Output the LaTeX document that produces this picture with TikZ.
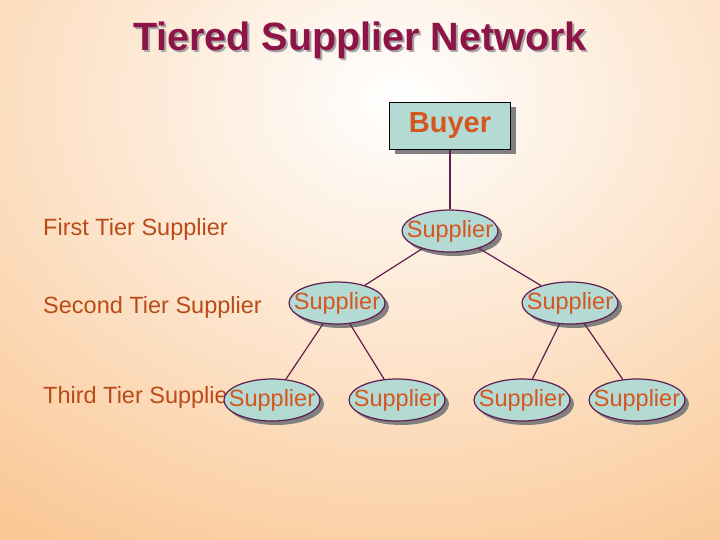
\documentclass[tikz,border=0pt]{standalone}
\usepackage{fontspec}
\setmainfont{Liberation Sans}
\usetikzlibrary{shapes.geometric,shadows}
\definecolor{peach}{RGB}{250,200,150}
\definecolor{tealfill}{RGB}{180,218,212}
\definecolor{edgepurple}{RGB}{96,30,80}
\definecolor{txtorange}{RGB}{215,85,30}
\definecolor{lbl}{RGB}{185,75,25}
\definecolor{titlec}{RGB}{140,20,70}
\tikzset{
 sup/.style={ellipse,draw=edgepurple,line width=1.2pt,fill=tealfill,minimum width=96pt,minimum height=42pt,inner xsep=-10pt,inner ysep=0pt,text=txtorange,font=\fontsize{23.5}{23.5}\selectfont,drop shadow={shadow xshift=4pt,shadow yshift=-4pt,fill=gray,opacity=1}},
 buy/.style={rectangle,draw=black,line width=1.2pt,fill=tealfill,minimum width=121pt,minimum height=47pt,text=txtorange,font=\bfseries\fontsize{29}{29}\selectfont,drop shadow={shadow xshift=5pt,shadow yshift=-5pt,fill=gray,opacity=1}},
 conn/.style={draw=edgepurple,line width=1.2pt},
 tier/.style={anchor=west,text=lbl,font=\fontsize{23.5}{23.5}\selectfont,inner sep=0pt}
}
\begin{document}
\begin{tikzpicture}[x=1pt,y=-1pt]
\useasboundingbox (0,0) rectangle (720,540);
\shade[inner color=white,outer color=peach] (-260,-420) rectangle (1060,620);
\node[text=gray!70,font=\bfseries\fontsize{39.5}{39.5}\selectfont] at (362,42) {Tiered Supplier Network};
\node (title) [text=titlec,font=\bfseries\fontsize{39.5}{39.5}\selectfont] at (360,40) {Tiered Supplier Network};
\node (t1) [tier] at (43,229) {First Tier Supplier};
\node (t2) [tier] at (43,307) {Second Tier Supplier};
\node (t3) [tier] at (43,397) {Third Tier Supplier};
\node (b) [buy] at (450,126) {Buyer};
\node (s1) [sup] at (450,231) {Supplier};
\node (s2a) [sup] at (337,303) {Supplier};
\node (s2b) [sup] at (570,303) {Supplier};
\node (s3a) [sup] at (272,400) {Supplier};
\node (s3b) [sup] at (397,400) {Supplier};
\node (s3c) [sup] at (522,400) {Supplier};
\node (s3d) [sup] at (637,400) {Supplier};
\draw[conn] (b) -- (s1);
\draw[conn] (s1) -- (s2a);
\draw[conn] (s1) -- (s2b);
\draw[conn] (s2a) -- (s3a);
\draw[conn] (s2a) -- (s3b);
\draw[conn] (s2b) -- (s3c);
\draw[conn] (s2b) -- (s3d);
\end{tikzpicture}
\end{document}
